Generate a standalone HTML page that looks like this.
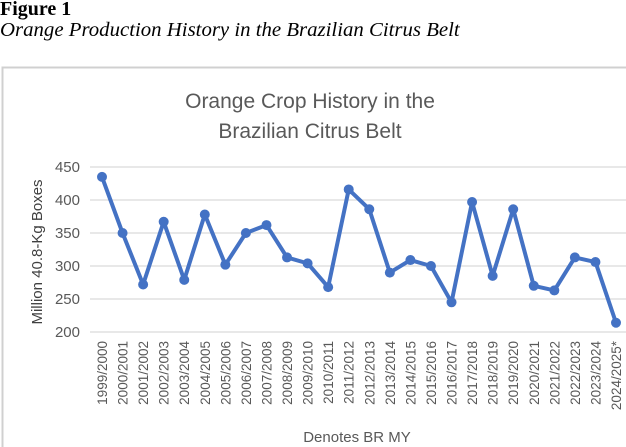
<!DOCTYPE html>
<html><head><meta charset="utf-8"><style>
body{margin:0;background:#fff;width:626px;height:447px;overflow:hidden;position:relative}
.cap1{position:absolute;left:0;top:-2px;font:bold 20px "Liberation Serif",serif;color:#000}
.cap2{position:absolute;left:0;top:19px;font:italic 20px "Liberation Serif",serif;color:#000;transform-origin:0 0;transform:scaleX(1.04);white-space:nowrap}
svg{position:absolute;left:0;top:0}
</style></head><body>
<div class="cap1">Figure 1</div>
<div class="cap2">Orange Production History in the Brazilian Citrus Belt</div>
<svg id="s" width="626" height="447" xmlns="http://www.w3.org/2000/svg" font-family="Liberation Sans, sans-serif">
<rect x="2.5" y="67.5" width="640" height="400" fill="#fff" stroke="#d0d0d0" stroke-width="2"/>
<text x="310" y="108" text-anchor="middle" font-size="21" fill="#595959">Orange Crop History in the</text>
<text x="310" y="138" text-anchor="middle" font-size="21" fill="#595959">Brazilian Citrus Belt</text>
<text transform="translate(42,252) rotate(-90)" text-anchor="middle" font-size="15" fill="#404040">Million 40.8-Kg Boxes</text>
<text x="357" y="442" text-anchor="middle" font-size="15" fill="#595959">Denotes BR MY</text>
<g id="g"></g>
</svg>
<script>
var v=[435,350,272,367,279,378,302,350,362,313,304,268,416,386,290,309,300,245,397,285,386,270,263,313,306,214];
var g=document.getElementById('g'),h='';
for(var t=200;t<=450;t+=50){var y=332-(t-200)*0.66;
h+='<line x1="90" x2="626" y1="'+y+'" y2="'+y+'" stroke="#d9d9d9" stroke-width="1.3"/>';
h+='<text x="80" y="'+(y+5)+'" text-anchor="end" font-size="15" fill="#595959">'+t+'</text>';}
var pts=[];
for(var i=0;i<26;i++){var x=102+20.56*i,y=332-(v[i]-200)*0.66;pts.push(x+','+y);
var lab=(1999+i)+'/'+(2000+i)+(i==25?'*':'');
h+='<text transform="translate('+(x+5)+',341) rotate(-90)" text-anchor="end" font-size="13.5" fill="#595959">'+lab+'</text>';}
h+='<polyline points="'+pts.join(' ')+'" fill="none" stroke="#4472c4" stroke-width="4" stroke-linejoin="round"/>';
pts.forEach(function(p){var a=p.split(',');h+='<circle cx="'+a[0]+'" cy="'+a[1]+'" r="5" fill="#4472c4"/>';});
g.innerHTML=h;
</script>
</body></html>
